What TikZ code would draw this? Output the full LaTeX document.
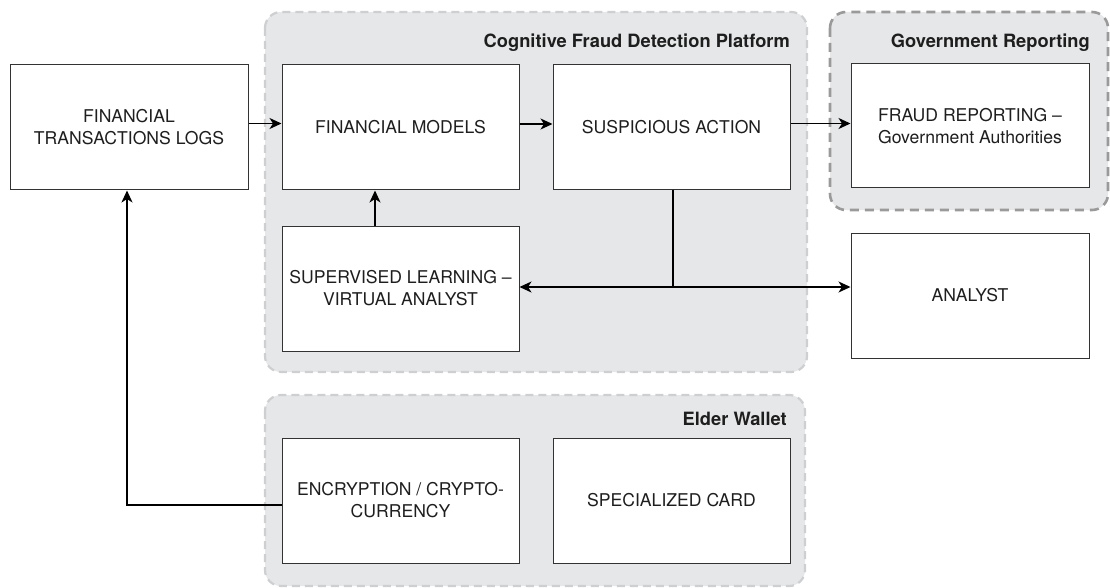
\documentclass[tikz,border=0pt]{standalone}
\usepackage{fontspec}
\setmainfont{TeX Gyre Heros}
\usetikzlibrary{arrows.meta,positioning}

\definecolor{groupfill}{HTML}{E6E7E8}
\definecolor{groupline}{HTML}{CDCFD1}
\definecolor{govline}{HTML}{9A9A9A}
\definecolor{boxline}{HTML}{333333}
\definecolor{ink}{HTML}{1E1E1E}

\tikzset{
  procbox/.style={draw=boxline, line width=1pt, fill=white, text=ink,
    minimum width=237pt, minimum height=125pt, align=center,
    font=\fontsize{17.6pt}{22pt}\selectfont, inner sep=0pt},
  groupbox/.style={fill=groupfill, draw=groupline, line width=2.2pt,
    dash pattern=on 8pt off 5pt, rounded corners=16pt},
  govbox/.style={fill=groupfill, draw=govline, line width=2.6pt,
    dash pattern=on 9pt off 6pt, rounded corners=16pt},
  grouptitle/.style={anchor=east, text=ink, font=\fontsize{18.3pt}{22pt}\selectfont\bfseries, inner sep=0pt},
  link/.style={draw=black, line width=1.5pt, -{Stealth[length=12pt,width=11pt,inset=3.5pt]}},
  plainlink/.style={draw=black, line width=1.5pt}
}

\begin{document}
\begin{tikzpicture}[x=1pt,y=-1pt]
\path[use as bounding box] (0,0) rectangle (1110,588);

% group frames
\draw[groupbox] (265,12) rectangle (807,372);
\draw[govbox] (830,12) rectangle (1108,210);
\draw[groupbox] (265,395) rectangle (805,586);

\node[grouptitle] (cogtitle) at (790,43) {Cognitive Fraud Detection Platform};
\node[grouptitle] (govtitle) at (1090,43) {Government Reporting};
\node[grouptitle] (eldtitle) at (787,419) {Elder Wallet};

% process boxes
\node[procbox, minimum width=238pt] (ftl) at (129,127.5) {FINANCIAL\\TRANSACTIONS LOGS};
\node[procbox] (fm) at (400.5,127.5) {FINANCIAL MODELS};
\node[procbox] (sa) at (671.5,127.5) {SUSPICIOUS ACTION};
\node[procbox, minimum width=238pt, minimum height=124pt] (fr) at (970,126) {FRAUD REPORTING --\\Government Authorities};
\node[procbox, minimum width=238pt] (an) at (970,295.5) {ANALYST};
\node[procbox] (sl) at (400.5,288.5) {SUPERVISED LEARNING --\\VIRTUAL ANALYST};
\node[procbox] (enc) at (400.5,500.5) {ENCRYPTION / CRYPTO-\\CURRENCY};
\node[procbox] (sc) at (671.5,500.5) {SPECIALIZED CARD};

% connectors
\draw[link] ([yshift=4pt]ftl.east) -- ([yshift=4pt]fm.west |- ftl.east);
\draw[link] ([yshift=3.5pt]fm.east) -- ([yshift=3.5pt]sa.west |- fm.east);
\draw[link] ([yshift=4pt]sa.east) -- ([yshift=4pt]fr.west |- sa.east);
\draw[link] ([xshift=-25.5pt]sl.north) -- ([xshift=-25.5pt]fm.south);

\coordinate (split) at ([xshift=1.5pt]sa.south |- 0,287);
\draw[plainlink] ([xshift=1.5pt]sa.south) -- (split);
\draw[link] (split) -- (sl.east |- split);
\draw[link] (split) -- (an.west |- split);

\draw[link] ([yshift=-4.5pt]enc.west) -| ([xshift=-2pt]ftl.south);
\end{tikzpicture}
\end{document}
